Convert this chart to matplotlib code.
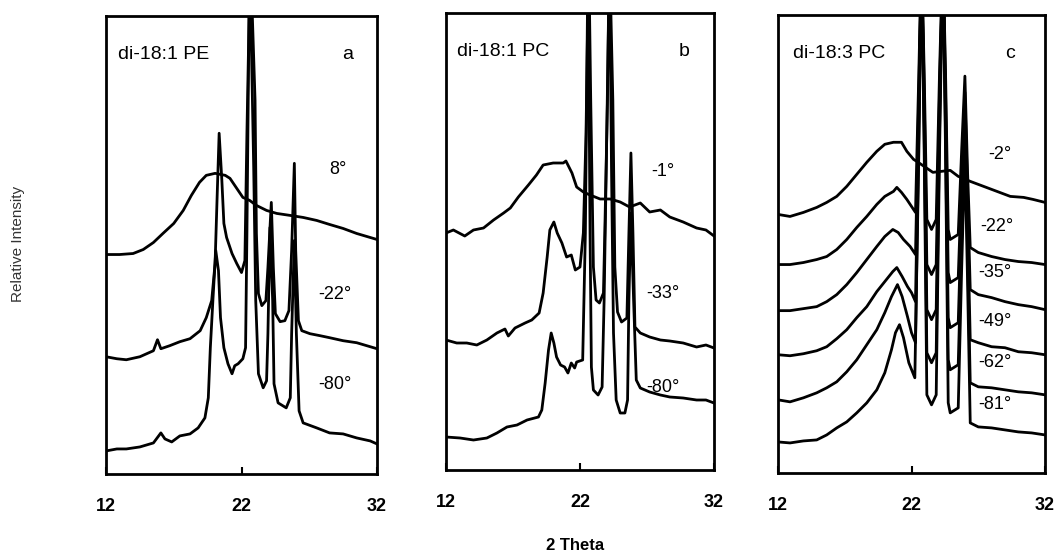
import matplotlib.pyplot as plt

plt.rcParams['font.family'] = ['Liberation Sans', 'DejaVu Sans']

# 2-theta (deg) and relative intensity (arbitrary units)

# panel a: di-18:1 PE
pe_x_8 = [12.0, 13.0, 14.0, 14.75, 15.5, 16.2, 17.0, 17.7, 18.3, 18.9, 19.4, 20.05, 20.8, 21.15,
          21.65, 22.1, 22.6, 23.1, 23.85, 24.6, 25.6, 26.55, 27.55, 28.5, 29.5, 30.5, 31.5, 32.0]
pe_h_8 = [219, 219, 220, 224, 231, 240, 250, 263, 278, 291, 298, 300, 298, 295,
          285, 276, 273, 268, 263, 260, 258, 256, 253, 249, 245, 240, 236, 234]

pe_x_22 = [12.0, 12.8, 13.5, 14.5, 15.5, 15.8, 16.05, 16.7, 17.45, 18.2, 18.95, 19.4, 19.8, 20.05,
           20.2, 20.35, 20.55, 20.7, 20.9, 21.3, 21.65, 22.0, 22.25, 22.4, 22.65, 23.0, 23.1, 23.25,
           23.5, 23.8, 23.95, 24.2, 24.35, 24.5, 24.85, 25.2, 25.5, 25.7, 25.9, 26.0, 26.2, 26.45,
           27.05, 27.8, 28.5, 29.5, 30.5, 31.5, 32.0]
pe_h_22 = [117, 115, 114, 117, 123, 134, 125, 128, 132, 135, 143, 156, 173, 210,
           276, 340, 293, 250, 236, 220, 210, 201, 213, 340, 520, 373, 240, 180,
           168, 173, 206, 271, 206, 160, 152, 153, 163, 223, 310, 223, 153, 143,
           140, 138, 136, 133, 131, 127, 125]

pe_x_80 = [12.0, 12.8, 13.5, 14.5, 15.5, 16.05, 16.35, 16.85, 17.45, 18.2, 18.8, 19.3, 19.55, 19.7,
           19.9, 20.1, 20.3, 20.45, 20.7, 21.0, 21.3, 21.5, 21.75, 22.1, 22.3, 22.4, 22.6, 22.9,
           23.05, 23.25, 23.6, 23.85, 23.95, 24.1, 24.3, 24.4, 24.7, 25.3, 25.6, 25.7, 25.9, 26.05,
           26.25, 26.55, 27.55, 28.5, 29.5, 30.5, 31.5, 32.0]
pe_h_80 = [23, 25, 25, 27, 31, 41, 35, 32, 38, 40, 46, 56, 76, 126,
           176, 223, 203, 156, 126, 110, 100, 108, 110, 115, 126, 240, 520, 306,
           173, 100, 86, 93, 140, 246, 173, 90, 71, 66, 76, 140, 233, 140,
           63, 51, 46, 41, 40, 36, 33, 30]

# panel b: di-18:1 PC
pc1_x_1 = [12.0, 12.55, 13.4, 14.05, 14.8, 15.55, 16.3, 16.8, 17.4, 18.15, 18.75, 19.25, 20.0, 20.75,
           20.95, 21.4, 21.75, 22.25, 22.75, 23.5, 24.25, 25.0, 25.7, 26.5, 27.2, 28.0, 28.7, 29.7,
           30.7, 31.4, 32.0]
pc1_h_1 = [237, 240, 234, 240, 242, 250, 257, 262, 273, 285, 295, 305, 307, 307,
           309, 297, 283, 278, 275, 271, 271, 268, 263, 267, 258, 260, 253, 248,
           242, 240, 234]

pc1_x_33 = [12.0, 12.8, 13.55, 14.3, 15.05, 15.8, 16.4, 16.65, 17.15, 17.9, 18.4, 18.95, 19.25, 19.55,
            19.75, 20.05, 20.3, 20.65, 21.0, 21.35, 21.65, 22.0, 22.25, 22.45, 22.65, 22.8, 23.0, 23.2,
            23.45, 23.75, 23.85, 24.05, 24.2, 24.45, 24.6, 24.8, 25.1, 25.5, 25.65, 25.8, 25.95, 26.1,
            26.5, 27.2, 28.0, 28.7, 29.7, 30.7, 31.4, 32.0]
pc1_h_33 = [130, 127, 127, 125, 130, 137, 141, 134, 142, 147, 150, 157, 177, 213,
            240, 248, 237, 227, 213, 215, 200, 203, 237, 337, 520, 370, 203, 170,
            167, 177, 237, 370, 520, 370, 203, 158, 148, 152, 237, 317, 237, 143,
            137, 133, 130, 129, 127, 123, 125, 122]

pc1_x_80 = [12.0, 13.05, 14.05, 15.05, 15.8, 16.55, 17.3, 18.05, 18.9, 19.15, 19.4, 19.65, 19.85, 20.05,
            20.25, 20.55, 20.85, 21.1, 21.35, 21.6, 21.75, 22.2, 22.4, 22.6, 22.75, 22.85, 23.0, 23.35,
            23.65, 23.8, 24.0, 24.2, 24.35, 24.5, 24.7, 25.0, 25.35, 25.55, 25.65, 25.8, 26.0, 26.2,
            26.5, 27.2, 28.0, 28.7, 29.7, 30.7, 31.4, 32.0]
pc1_h_80 = [33, 32, 30, 32, 37, 43, 45, 50, 53, 60, 87, 120, 137, 127,
            113, 105, 103, 97, 107, 102, 108, 110, 237, 520, 237, 103, 80, 75,
            83, 170, 337, 520, 303, 137, 70, 57, 57, 70, 170, 257, 170, 90,
            82, 78, 75, 73, 72, 70, 70, 67]

# panel c: di-18:3 PC
pc3_x_2 = [12.0, 12.9, 13.9, 14.9, 15.65, 16.4, 17.15, 17.9, 18.65, 19.4, 20.0, 20.65, 21.25, 21.65,
           22.15, 22.5, 23.6, 24.9, 25.5, 26.4, 27.4, 28.4, 29.4, 30.4, 31.1, 32.0]
pc3_h_2 = [258, 256, 260, 265, 270, 276, 286, 298, 310, 321, 328, 330, 330, 321,
           313, 310, 300, 302, 296, 291, 286, 281, 276, 275, 273, 270]

pc3_x_22 = [12.0, 12.9, 13.9, 14.9, 15.65, 16.4, 17.15, 17.9, 18.65, 19.4, 20.0, 20.65, 20.9, 21.25,
            21.65, 22.0, 22.3, 22.55, 22.75, 22.95, 23.15, 23.5, 23.85, 24.1, 24.35, 24.55, 24.75,
            24.9, 25.5, 25.75, 26.0, 26.2, 26.4, 27.0, 28.0, 29.0, 30.0, 31.0, 32.0]
pc3_h_22 = [208, 208, 210, 213, 216, 223, 233, 245, 256, 268, 276, 281, 285, 280,
            273, 266, 260, 400, 520, 400, 253, 243, 253, 400, 520, 400, 243,
            233, 238, 320, 396, 300, 225, 220, 216, 213, 211, 210, 208]

pc3_x_35 = [12.0, 12.9, 13.9, 14.9, 15.65, 16.4, 17.15, 17.9, 18.65, 19.4, 20.0, 20.6, 21.0, 21.4,
            21.9, 22.3, 22.55, 22.75, 22.95, 23.15, 23.5, 23.85, 24.1, 24.35, 24.55, 24.75, 24.9,
            25.5, 25.75, 26.0, 26.2, 26.4, 27.0, 28.0, 29.0, 30.0, 31.0, 32.0]
pc3_h_35 = [162, 162, 164, 166, 171, 178, 188, 200, 213, 226, 236, 243, 240, 233,
            226, 218, 380, 520, 380, 208, 198, 208, 380, 520, 380, 200, 190,
            195, 290, 380, 280, 183, 178, 175, 171, 168, 166, 163]

pc3_x_49 = [12.0, 12.9, 13.9, 14.9, 15.65, 16.4, 17.15, 17.9, 18.65, 19.4, 20.0, 20.6, 20.9, 21.3,
            21.7, 22.0, 22.3, 22.55, 22.75, 22.95, 23.15, 23.5, 23.85, 24.1, 24.35, 24.55, 24.75,
            24.9, 25.5, 25.75, 26.0, 26.2, 26.4, 27.0, 28.0, 29.0, 30.0, 31.0, 32.0]
pc3_h_49 = [118, 117, 119, 122, 126, 134, 143, 155, 166, 181, 191, 201, 205, 196,
            186, 180, 171, 360, 520, 360, 163, 153, 163, 360, 520, 360, 155,
            145, 150, 260, 360, 250, 133, 130, 126, 125, 121, 120, 118]

pc3_x_62 = [12.0, 12.9, 13.9, 14.9, 15.65, 16.4, 17.15, 17.9, 18.65, 19.4, 20.0, 20.5, 20.95, 21.3,
            21.7, 22.0, 22.3, 22.55, 22.75, 22.95, 23.15, 23.5, 23.85, 24.1, 24.35, 24.55, 24.75,
            24.9, 25.5, 25.75, 26.0, 26.2, 26.4, 27.0, 28.0, 29.0, 30.0, 31.0, 32.0]
pc3_h_62 = [73, 71, 75, 80, 85, 91, 101, 113, 128, 143, 160, 176, 188, 176,
            156, 140, 130, 340, 520, 340, 120, 110, 120, 340, 520, 340, 113,
            103, 108, 230, 340, 220, 90, 86, 85, 83, 81, 80, 78]

pc3_x_81 = [12.0, 12.9, 13.9, 14.9, 15.65, 16.4, 17.15, 17.9, 18.65, 19.4, 20.0, 20.5, 20.8, 21.1,
            21.4, 21.8, 22.25, 22.55, 22.75, 22.95, 23.15, 23.5, 23.85, 24.1, 24.35, 24.55, 24.75,
            24.9, 25.5, 25.75, 26.0, 26.2, 26.4, 27.0, 28.0, 29.0, 30.0, 31.0, 32.0]
pc3_h_81 = [31, 30, 32, 33, 38, 45, 51, 60, 70, 83, 100, 123, 140, 148,
            135, 110, 95, 320, 520, 320, 78, 68, 78, 320, 520, 320, 70,
            60, 65, 200, 320, 190, 50, 46, 45, 43, 41, 40, 38]

titles = ['di-18:1 PE', 'di-18:1 PC', 'di-18:3 PC']
letters = ['a', 'b', 'c']
pe_temps = ['8°', '-22°', '-80°']
pc1_temps = ['-1°', '-33°', '-80°']
pc3_temps = ['-2°', '-22°', '-35°', '-49°', '-62°', '-81°']
xticks = [12, 22, 32]

W, H = 1058, 554
fig = plt.figure(figsize=(W / 100, H / 100), dpi=100)


def make_ax(left, right, top, bottom):
    ax = fig.add_axes([left / W, 1 - bottom / H, (right - left) / W, (bottom - top) / H])
    ax.set_xlim(12, 32)
    ax.set_ylim(0, 457)
    ax.set_yticks([])
    ax.set_xticks(xticks)
    ax.set_xticklabels([str(t) for t in xticks], fontsize=13, fontweight='bold')
    ax.tick_params(axis='x', direction='in', length=5, width=1.5, pad=17)
    for s in ax.spines.values():
        s.set_linewidth(2.0)
    return ax


panels = [
    make_ax(106, 377, 16, 474),
    make_ax(446, 714, 13, 470),
    make_ax(778, 1045, 15, 473),
]

traces = [
    [(pe_x_8, pe_h_8), (pe_x_22, pe_h_22), (pe_x_80, pe_h_80)],
    [(pc1_x_1, pc1_h_1), (pc1_x_33, pc1_h_33), (pc1_x_80, pc1_h_80)],
    [(pc3_x_2, pc3_h_2), (pc3_x_22, pc3_h_22), (pc3_x_35, pc3_h_35),
     (pc3_x_49, pc3_h_49), (pc3_x_62, pc3_h_62), (pc3_x_81, pc3_h_81)],
]
temps = [pe_temps, pc1_temps, pc3_temps]
# where the temperature labels sit (deg, intensity)
label_pos = [
    [(29.1, 304), (28.9, 179), (28.9, 89)],
    [(28.2, 298), (28.2, 177), (28.2, 83)],
    [(28.6, 318), (28.4, 246), (28.25, 200), (28.25, 151), (28.25, 110), (28.25, 68)],
]
title_x = [0.044, 0.041, 0.056]
letter_x = [0.89, 0.89, 0.87]

for i, ax in enumerate(panels):
    for x, h in traces[i]:
        ax.plot(x, h, color='black', lw=2.0, solid_joinstyle='round')
    for t, (lx, ly) in zip(temps[i], label_pos[i]):
        ax.text(lx, ly, t, ha='center', va='center', fontsize=13)
    ax.text(title_x[i], 0.915, titles[i], transform=ax.transAxes,
            ha='left', va='center', fontsize=14)
    ax.text(letter_x[i], 0.915, letters[i], transform=ax.transAxes,
            ha='center', va='center', fontsize=14)

fig.text(575 / W, 1 - 545 / H, '2 Theta', ha='center', va='center',
         fontsize=12, fontweight='bold')
fig.text(18 / W, 1 - 244 / H, 'Relative Intensity', rotation=90,
         ha='center', va='center', fontsize=11, color='#333333')

fig.savefig('out.png', dpi=100)
